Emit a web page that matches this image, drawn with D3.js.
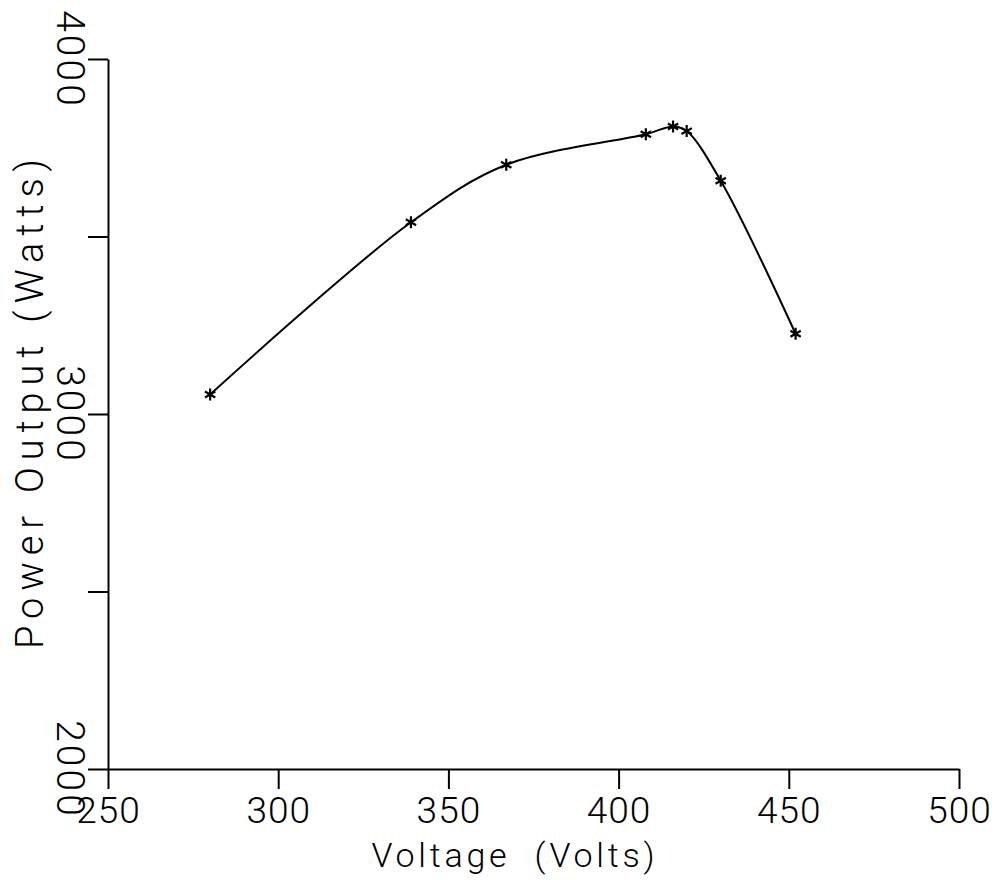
<!DOCTYPE html>
<html>
<head>
<meta charset="utf-8">
<script src="https://cdn.jsdelivr.net/npm/d3@7/dist/d3.min.js"></script>
<style>
  body { margin: 0; background: #fff; }
  text { font-family: Roboto, "DejaVu Sans", sans-serif; font-weight: 300; fill: #000; }
  .axis path, .axis line { stroke: #000; stroke-width: 2; }
</style>
</head>
<body>
<div id="chart"></div>
<script>
var voltage = [280, 339, 367, 408, 416, 420, 430, 452];
var power = [3055, 3540, 3702, 3788, 3810, 3797, 3657, 3226];

var x_ticks = [250, 300, 350, 400, 450, 500];
var y_ticks = [2000, 2500, 3000, 3500, 4000];
var y_labels = [2000, 3000, 4000];

var chart_width = 999;
var chart_height = 880;

var data = voltage.map(function(v, i) { return [v, power[i]]; });

var svg = d3.select('#chart')
  .append('svg')
  .attr('width', chart_width)
  .attr('height', chart_height);

var x_scale = d3.scaleLinear()
  .domain([250, 500])
  .range([108, 959]);

var y_scale = d3.scaleLinear()
  .domain([2000, 4000])
  .range([769, 59]);

// x axis
var x_axis = d3.axisBottom(x_scale)
  .tickValues(x_ticks)
  .tickSize(20)
  .tickSizeOuter(0)
  .tickPadding(0);

var gx = svg.append('g')
  .attr('class', 'axis x-axis')
  .attr('transform', 'translate(0,' + y_scale(2000) + ')')
  .call(x_axis);

gx.selectAll('text')
  .attr('y', 54)
  .attr('dy', 0)
  .style('font-size', '37px')
  .style('letter-spacing', '1px');

// y axis
var y_axis = d3.axisLeft(y_scale)
  .tickValues(y_ticks)
  .tickSize(20)
  .tickSizeOuter(0)
  .tickFormat(function(d) { return y_labels.indexOf(d) >= 0 ? d : ''; });

var gy = svg.append('g')
  .attr('class', 'axis y-axis')
  .attr('transform', 'translate(' + x_scale(250) + ',0)')
  .call(y_axis);

gy.selectAll('text')
  .attr('x', 0)
  .attr('dy', 0)
  .attr('text-anchor', 'middle')
  .attr('transform', 'translate(-51,0) rotate(90)')
  .style('font-size', '39px')
  .style('letter-spacing', '3px');

// axis titles
svg.append('text')
  .attr('x', 513)
  .attr('y', 867)
  .attr('text-anchor', 'middle')
  .attr('textLength', 283)
  .attr('lengthAdjust', 'spacing')
  .style('font-size', '34px')
  .style('white-space', 'pre')
  .text('Voltage  (Volts)');

svg.append('text')
  .attr('transform', 'translate(43,404) rotate(-90)')
  .attr('text-anchor', 'middle')
  .attr('textLength', 490)
  .attr('lengthAdjust', 'spacing')
  .style('font-size', '38px')
  .style('white-space', 'pre')
  .text('Power Output (Watts)');

// curve
var line = d3.line()
  .x(function(d) { return x_scale(d[0]); })
  .y(function(d) { return y_scale(d[1]); })
  .curve(d3.curveCatmullRom.alpha(0.5));

svg.append('path')
  .datum(data)
  .attr('d', line)
  .attr('fill', 'none')
  .attr('stroke', '#000')
  .attr('stroke-width', 2);

// asterisk markers
svg.append('g')
  .selectAll('path')
  .data(data)
  .enter()
  .append('path')
  .attr('transform', function(d) {
    return 'translate(' + x_scale(d[0]) + ',' + y_scale(d[1]) + ')';
  })
  .attr('d', d3.symbol().type(d3.symbolAsterisk).size(100))
  .attr('fill', 'none')
  .attr('stroke', '#000')
  .attr('stroke-width', 2.2);
</script>
</body>
</html>
